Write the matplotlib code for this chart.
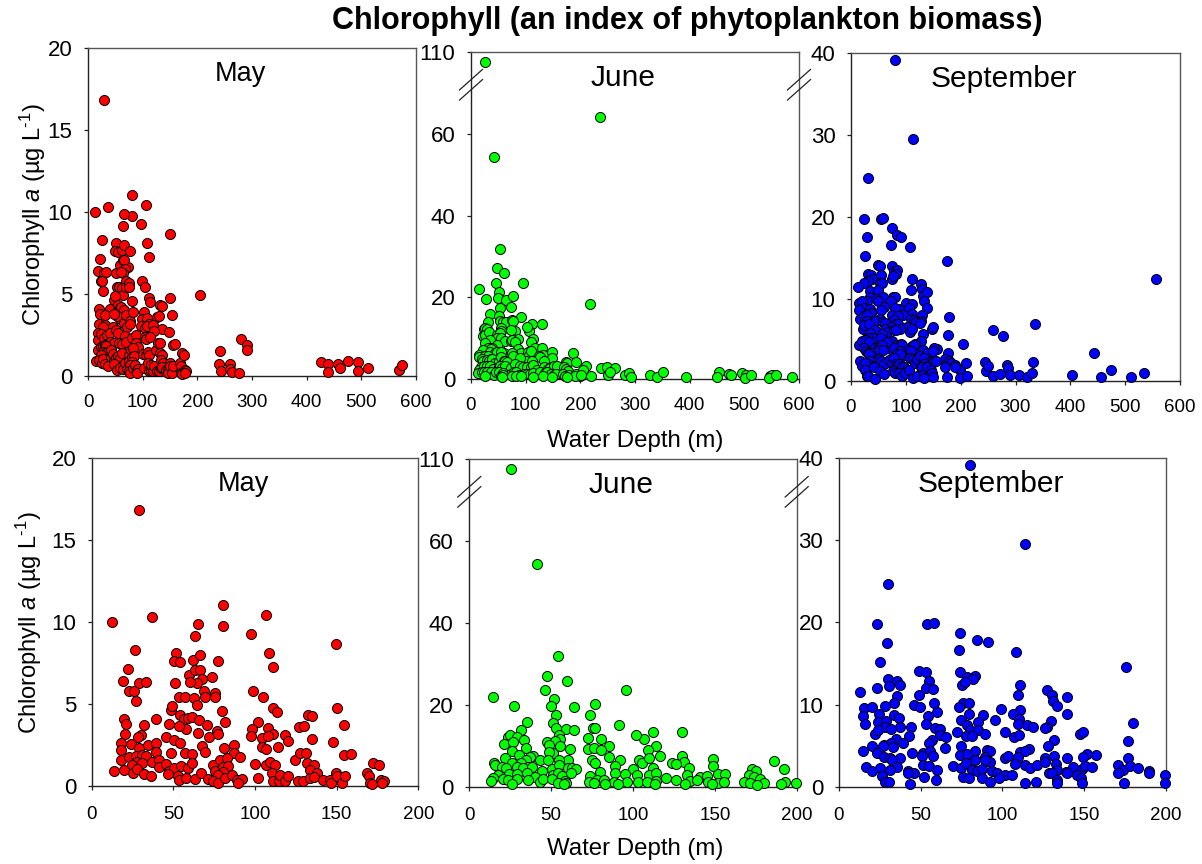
import numpy as np
import matplotlib
matplotlib.use("Agg")
import matplotlib.pyplot as plt
from matplotlib.lines import Line2D

plt.rcParams['font.family'] = ['Liberation Sans', 'DejaVu Sans']
plt.rcParams['mathtext.fontset'] = 'custom'
plt.rcParams['mathtext.rm'] = 'Liberation Sans'
plt.rcParams['mathtext.it'] = 'Liberation Sans:italic'
plt.rcParams['mathtext.bf'] = 'Liberation Sans:bold'

# ---------------- data (water depth in m, chlorophyll a in ug/L) ----------------
may_depth = [
    29.2, 12.2, 36.9, 80.6, 80.6, 106.7, 65.3, 63.5, 97.6, 149.6,
    26.3, 108.6, 51.4, 50.2, 54.3, 62.2, 66.3, 77.6, 22.2, 111.2,
    73.5, 19.0, 29.2, 33.3, 51.2, 59.4, 63.3, 66.3, 67.6, 64.3,
    60.2, 23.0, 26.1, 27.1, 98.6, 53.3, 57.1, 62.9, 64.3, 69.0,
    69.4, 75.5, 75.3, 105.0, 110.8, 113.3, 150.0, 48.4, 49.4, 80.0,
    19.8, 21.2, 20.2, 39.4, 32.0, 30.2, 28.2, 54.1, 56.5, 59.2,
    61.2, 65.7, 57.8, 53.3, 47.6, 65.3, 70.4, 71.6, 76.5, 81.8,
    77.3, 102.0, 98.0, 97.6, 107.8, 110.8, 104.1, 108.2, 132.4, 135.1,
    127.1, 130.2, 135.1, 154.5, 118.2, 120.2, 148.0, 45.3, 18.2, 18.0,
    24.3, 29.2, 34.3, 39.4, 39.6, 48.4, 50.4, 54.1, 57.1, 61.6,
    67.3, 69.4, 81.2, 87.3, 87.1, 90.6, 104.1, 106.5, 113.9, 18.2,
    22.9, 27.1, 30.8, 33.3, 27.6, 31.0, 37.1, 41.2, 24.5, 13.9,
    20.0, 25.1, 27.6, 32.0, 36.1, 41.2, 45.3, 47.3, 50.4, 54.5,
    59.2, 61.6, 53.1, 47.0, 53.7, 57.8, 63.3, 67.1, 71.2, 74.5,
    75.5, 78.6, 80.6, 82.7, 83.7, 80.2, 77.6, 74.1, 77.3, 81.8,
    85.7, 88.8, 91.8, 89.4, 100.0, 101.6, 106.7, 109.2, 112.2, 110.2,
    110.8, 114.5, 115.3, 118.6, 120.2, 124.5, 127.6, 131.4, 131.6, 135.9,
    133.7, 137.8, 126.5, 129.2, 133.7, 135.9, 141.8, 145.9, 146.3, 149.6,
    150.0, 153.3, 155.3, 154.7, 158.6, 168.8, 172.0, 175.7, 169.6, 170.4,
    171.6, 177.0, 179.2, 177.8,
    204.5, 241.0, 239.0, 243.5, 259.5, 259.5, 264.0, 276.5, 279.0, 290.0,
    290.0, 425.5, 439.5, 438.3, 458.0, 461.0, 476.0, 493.0, 493.0, 511.6,
    569.6, 575.0,
]
may_chl = [
    16.8, 10.0, 10.3, 11.06, 9.76, 10.4, 9.86, 9.15, 9.25, 8.64,
    8.27, 8.13, 8.11, 7.62, 7.54, 7.68, 7.99, 7.6, 7.13, 7.28,
    6.67, 6.42, 6.3, 6.34, 6.28, 6.75, 7.07, 7.05, 6.52, 6.3,
    6.36, 5.81, 5.81, 5.18, 5.81, 5.45, 5.45, 5.37, 4.94, 5.81,
    5.45, 5.65, 5.41, 5.45, 4.78, 4.53, 4.78, 4.65, 4.88, 4.59,
    4.09, 3.78, 3.19, 4.1, 3.7, 3.11, 2.97, 4.33, 4.1, 4.17,
    4.23, 4.02, 3.46, 3.66, 3.78, 3.21, 3.7, 2.97, 3.37, 3.92,
    3.17, 3.92, 3.46, 3.07, 3.56, 3.17, 2.91, 3.05, 4.31, 4.27,
    3.62, 3.66, 2.87, 3.72, 3.11, 2.74, 2.68, 3.01, 2.6, 2.2,
    2.56, 2.34, 2.5, 2.6, 2.07, 1.99, 2.8, 2.6, 1.99, 1.95,
    2.46, 2.05, 2.34, 2.48, 1.99, 1.79, 2.36, 2.26, 2.4, 1.61,
    1.75, 1.83, 1.91, 1.85, 1.48, 1.38, 1.44, 1.59, 1.28, 0.93,
    0.98, 0.79, 1.02, 0.73, 0.61, 1.18, 1.34, 0.91, 1.08, 1.24,
    1.08, 1.38, 0.61, 0.73, 0.37, 0.47, 0.45, 0.77, 0.43, 1.3,
    0.93, 1.59, 1.18, 1.69, 1.22, 0.87, 0.67, 0.33, 0.16, 0.47,
    0.67, 0.37, 0.41, 0.2, 1.32, 0.47, 1.28, 1.48, 1.28, 0.81,
    0.33, 0.3, 0.67, 0.3, 0.61, 1.59, 1.99, 1.99, 1.38, 1.28,
    0.98, 0.77, 0.33, 0.33, 0.47, 0.57, 0.37, 0.37, 0.16, 0.77,
    0.61, 0.16, 0.61, 1.89, 1.93, 0.81, 1.38, 1.26, 0.61, 0.16,
    0.1, 0.37, 0.3, 0.2,
    4.92, 1.53, 0.73, 0.31, 0.71, 0.41, 0.26, 0.16, 2.24, 1.89,
    1.59, 0.87, 0.71, 0.26, 0.71, 0.47, 0.92, 0.87, 0.33, 0.47,
    0.37, 0.67,
]

june_depth = [
    25.5, 41.6, 53.9, 47.3, 59.6, 46.5, 95.9, 14.5, 51.8, 49.8,
    27.6, 63.7, 76.5, 73.7, 52.7, 35.5, 91.2, 51.4, 52.7, 58.8,
    63.7, 31.4, 75.5, 76.5, 130.0, 112.0, 106.5, 101.8, 80.6, 72.7,
    23.5, 24.9, 29.4, 54.7, 55.7, 21.2, 26.5, 33.5, 47.3, 52.2,
    48.4, 51.4, 55.3, 85.5, 113.9, 109.2, 34.7, 26.1, 61.6, 72.4,
    75.9, 80.6, 48.4, 30.2, 39.2, 37.3, 116.3, 130.0, 131.0, 85.5,
    21.8, 34.7, 60.2, 91.8, 74.9, 103.5, 105.5, 109.6, 43.3, 48.2,
    55.1, 149.0, 186.0, 15.1, 15.5, 26.1, 31.4, 36.1, 77.0, 123.9,
    126.3, 149.0, 19.8, 22.4, 29.0, 32.7, 38.4, 44.7, 50.6, 54.5,
    60.4, 62.7, 65.3, 99.8, 88.8, 112.0, 134.0, 172.9, 175.3, 192.2,
    17.8, 14.7, 24.5, 29.0, 35.1, 40.2, 51.4, 53.9, 56.5, 62.2,
    73.9, 80.0, 89.0, 95.3, 102.4, 109.8, 114.3, 120.4, 133.0, 141.2,
    144.9, 152.0, 156.5, 170.8, 173.9, 177.6, 13.1, 20.4, 23.9, 29.4,
    35.7, 42.9, 45.3, 50.6, 58.2, 72.9, 78.0, 82.4, 88.2, 96.3,
    103.1, 108.6, 114.3, 126.5, 134.7, 139.2, 146.1, 152.0, 155.5, 167.8,
    171.4, 180.0, 192.6, 199.5, 190.2, 26.3, 54.1, 59.0, 75.9, 83.0,
    90.8, 113.7, 132.0, 148.0, 175.9, 57.6,
    235.4, 218.3, 211.0, 204.9, 219.0, 201.8, 238.4, 248.8, 262.8, 250.6,
    254.9, 281.1, 289.0, 292.0, 326.8, 340.9, 351.2, 393.9, 453.7, 450.0,
    472.0, 475.0, 495.7, 503.7, 500.6, 511.6, 546.3, 551.2, 545.1, 558.5,
    587.8,
]
june_chl = [
    105.0, 54.4, 31.8, 27.1, 25.9, 23.5, 23.6, 21.9, 21.3, 19.8,
    19.6, 19.4, 20.2, 17.5, 17.4, 15.9, 15.1, 15.5, 14.3, 14.0,
    13.9, 13.9, 14.4, 14.3, 13.4, 13.4, 11.7, 12.6, 11.7, 12.0,
    12.2, 12.5, 12.2, 12.5, 11.7, 10.4, 10.8, 11.4, 10.8, 11.2,
    10.1, 8.15, 10.0, 9.9, 9.9, 9.0, 9.5, 8.7, 9.2, 9.2,
    9.5, 9.0, 8.4, 7.7, 7.6, 7.3, 7.6, 7.6, 5.95, 7.25,
    7.1, 6.5, 6.4, 6.4, 6.4, 6.5, 5.9, 6.9, 6.4, 6.5,
    6.5, 6.7, 6.3, 5.9, 5.4, 5.7, 5.7, 4.9, 5.7, 5.7,
    5.5, 5.05, 4.9, 4.5, 4.7, 4.5, 4.9, 3.8, 4.3, 5.3,
    4.5, 4.5, 4.2, 4.3, 5.05, 4.5, 4.5, 4.2, 3.8, 4.2,
    2.85, 2.2, 3.1, 3.1, 3.26, 2.45, 2.85, 3.26, 2.6, 3.26,
    2.6, 3.67, 3.26, 3.0, 2.85, 2.85, 3.4, 2.2, 2.85, 2.45,
    2.6, 3.1, 3.1, 2.85, 2.45, 2.0, 1.4, 1.8, 1.6, 1.8,
    1.6, 1.1, 1.8, 1.8, 1.4, 1.2, 1.6, 1.6, 1.06, 1.2,
    1.2, 1.2, 1.4, 1.6, 1.5, 1.6, 1.2, 1.0, 1.2, 1.2,
    0.8, 1.0, 1.2, 0.8, 0.65, 0.65, 0.8, 1.0, 0.8, 0.65,
    0.65, 0.57, 0.65, 0.57, 0.4, 0.57,
    64.2, 18.4, 3.2, 2.2, 0.8, 1.0, 2.8, 3.0, 2.6, 1.0,
    1.8, 1.0, 1.4, 0.57, 1.0, 0.4, 1.8, 0.57, 1.8, 0.57,
    1.2, 1.0, 1.55, 1.0, 0.16, 1.0, 0.73, 1.0, 0.16, 1.0,
    0.4,
]

sep_depth = [
    80.4, 113.6, 30.3, 23.2, 54.2, 58.5, 74.3, 84.3, 91.4, 29.3,
    73.5, 108.4, 25.3, 175.6, 48.9, 53.4, 74.3, 78.6, 83.3, 81.9,
    30.3, 35.8, 37.5, 55.4, 31.0, 75.4, 77.2, 110.8, 23.2, 53.4,
    57.4, 127.5, 13.0, 130.3, 35.4, 109.6, 49.3, 131.2, 139.3, 34.0,
    58.2, 76.2, 79.4, 133.2, 28.5, 15.5, 20.4, 46.0, 49.7, 73.7,
    99.4, 110.8, 24.6, 59.9, 34.0, 37.1, 54.6, 88.4, 15.1, 106.3,
    139.3, 110.4, 79.4, 74.5, 95.5, 85.1, 16.3, 24.2, 28.7, 179.6,
    129.7, 53.4, 109.3, 115.3, 118.9, 78.6, 127.5, 126.3, 37.5, 44.2,
    59.0, 22.2, 28.5, 24.0, 32.0, 62.1, 80.2, 85.1, 72.3, 101.4,
    147.5, 149.5, 89.6, 43.2, 62.1, 65.3, 77.6, 81.7, 107.3, 110.4,
    35.0, 131.5, 176.6, 39.5, 56.8, 27.9, 31.8, 55.0, 127.9, 74.5,
    65.2, 15.1, 20.4, 27.3, 33.4, 44.6, 51.7, 55.8, 83.5, 90.4,
    92.4, 116.5, 110.8, 114.0, 74.1, 78.2, 157.2, 151.5, 101.6, 103.7,
    109.8, 126.1, 131.5, 139.3, 149.1, 176.6, 23.2, 27.6, 31.4, 37.5,
    50.7, 57.8, 89.6, 83.3, 92.4, 89.4, 16.5, 20.4, 32.4, 35.4,
    31.4, 25.3, 42.6, 46.2, 51.3, 55.4, 59.9, 70.1, 74.5, 77.6,
    81.7, 84.3, 87.4, 93.7, 96.5, 101.6, 107.9, 113.8, 116.9, 121.0,
    126.1, 132.6, 133.2, 138.7, 143.4, 148.5, 150.5, 154.8, 170.8, 174.0,
    178.0, 182.7, 189.6, 199.5, 189.8, 26.3, 28.3, 30.8, 42.6, 43.6,
    52.1, 59.4, 76.2, 79.6, 87.4, 92.4, 98.2, 105.7, 113.6, 120.6,
    128.3, 130.3, 133.6, 133.2, 139.3, 145.4, 147.9, 148.9, 170.8, 174.5,
    199.4,
    556.3, 335.4, 259.3, 276.3, 204.5, 443.7, 332.3, 244.0, 245.9, 250.0,
    210.6, 212.4, 259.3, 271.5, 283.6, 285.5, 289.7, 306.8, 320.1, 330.5,
    402.3, 455.9, 473.5, 510.7, 535.0,
]
sep_chl = [
    39.2, 29.5, 24.7, 19.8, 19.8, 19.9, 18.7, 17.8, 17.6, 17.5,
    16.6, 16.4, 15.2, 14.6, 14.1, 14.0, 14.0, 13.4, 13.5, 13.1,
    13.1, 12.9, 12.4, 12.9, 12.2, 12.4, 12.8, 12.4, 12.0, 12.0,
    11.9, 11.8, 11.5, 11.2, 11.0, 11.1, 11.1, 10.4, 10.9, 10.2,
    10.2, 10.2, 10.2, 9.8, 9.8, 9.55, 9.75, 9.95, 9.75, 9.75,
    9.5, 9.35, 8.9, 9.05, 8.75, 8.35, 8.65, 8.75, 8.6, 8.85,
    8.9, 8.2, 8.9, 8.1, 8.1, 7.9, 7.6, 7.9, 8.05, 7.8,
    8.0, 7.6, 7.6, 7.5, 7.25, 7.5, 7.3, 7.1, 7.25, 7.3,
    7.2, 6.4, 7.3, 6.85, 7.0, 7.05, 6.9, 6.9, 6.6, 6.6,
    6.4, 6.6, 6.4, 6.2, 6.3, 6.0, 6.2, 6.2, 6.0, 6.3,
    5.8, 5.7, 5.55, 5.3, 5.7, 5.1, 5.3, 5.3, 4.9, 4.9,
    4.7, 4.4, 4.9, 4.95, 4.8, 4.05, 4.15, 4.35, 4.35, 4.47,
    4.35, 4.55, 4.25, 4.35, 3.8, 4.0, 3.85, 4.0, 3.55, 3.75,
    3.6, 3.45, 3.75, 3.45, 3.65, 3.45, 4.05, 3.65, 3.45, 3.45,
    3.75, 3.75, 3.65, 3.25, 3.05, 3.25, 2.45, 1.85, 3.25, 2.45,
    2.05, 2.25, 1.85, 1.65, 2.65, 2.5, 2.05, 2.55, 2.25, 2.85,
    2.05, 1.85, 2.1, 1.85, 1.65, 1.4, 2.75, 2.65, 2.25, 2.65,
    3.05, 2.75, 2.05, 1.75, 2.35, 2.15, 2.5, 2.45, 2.65, 2.05,
    2.5, 2.25, 1.95, 1.4, 1.65, 1.3, 0.6, 0.6, 1.7, 0.3,
    1.2, 0.8, 1.2, 1.0, 1.0, 0.6, 1.0, 1.4, 0.4, 0.6,
    1.65, 1.65, 0.8, 0.4, 1.65, 1.4, 1.0, 0.5, 1.65, 0.5,
    0.4,
    12.4, 6.95, 6.2, 5.5, 4.5, 3.45, 2.35, 2.35, 1.26, 1.83,
    2.24, 0.61, 0.65, 0.85, 1.95, 1.55, 0.73, 0.73, 0.45, 1.02,
    0.73, 0.45, 1.34, 0.53, 0.93,
]

months = ["May", "June", "September"]
colors = ["#ff0000", "#00ff00", "#0000ff"]
title = "Chlorophyll (an index of phytoplankton biomass)"
y_label = r"Chlorophyll $\mathit{a}$ (µg L$^{\text{-1}}$)"
x_label = "Water Depth (m)"

top_xticks = [0, 100, 200, 300, 400, 500, 600]
bottom_xticks = [0, 50, 100, 150, 200]
yticks = [[0, 5, 10, 15, 20], [0, 20, 40, 60, 110], [0, 10, 20, 30, 40]]
ylims = [(0, 20), (0, 110), (0, 40)]


# broken axis for June: 0-72 linear, gap, 100-110 compressed
def june_fwd(y):
    y = np.asarray(y, dtype=float)
    return np.where(y <= 72, y,
                    np.where(y >= 100, 75 + (y - 100) * 0.5,
                             72 + (y - 72) * 3.0 / 28.0))


def june_inv(z):
    z = np.asarray(z, dtype=float)
    return np.where(z <= 72, z,
                    np.where(z >= 75, 100 + (z - 75) * 2.0,
                             72 + (z - 72) * 28.0 / 3.0))


W, H = 1202, 864
fig = plt.figure(figsize=(W / 100, H / 100), dpi=100)


def add_ax(l, t, r, b):
    return fig.add_axes([l / W, 1 - b / H, (r - l) / W, (b - t) / H])


boxes = [
    [(88, 48, 416, 376), (471, 52, 799, 379), (851, 53, 1180, 381)],
    [(91.7, 458, 418.3, 786), (469.3, 459, 796.7, 786.7), (838.7, 458, 1166, 786.7)],
]
datasets = [(may_depth, may_chl), (june_depth, june_chl), (sep_depth, sep_chl)]
title_sizes = [19.5, 21.5, 21.5]
xpads = [9.5, 11.5]

for row in range(2):
    for col in range(3):
        box = boxes[row][col]
        ax = add_ax(*box)
        d = np.array(datasets[col][0])
        c = np.array(datasets[col][1])
        if row == 1:
            keep = d <= 200
            d, c = d[keep], c[keep]
        if col == 1:
            ax.set_yscale('function', functions=(june_fwd, june_inv))
        ax.scatter(d, c, s=52, c=colors[col], edgecolors='black',
                   linewidths=0.7, zorder=3, clip_on=False)
        ax.set_ylim(*ylims[col])
        ax.set_yticks(yticks[col])
        ax.set_yticklabels([str(v) for v in yticks[col]])
        if row == 0:
            ax.set_xlim(0, 600)
            ax.set_xticks(top_xticks)
        else:
            ax.set_xlim(0, 200)
            ax.set_xticks(bottom_xticks)
        ax.set_xticklabels([str(v) for v in ax.get_xticks().astype(int)])
        ax.tick_params(axis='y', direction='out', length=3.2, width=0.9,
                       labelsize=16, pad=8, colors='#222222', labelcolor='black')
        ax.tick_params(axis='x', direction='out', length=3.2, width=0.9,
                       labelsize=13.5, pad=xpads[row], colors='#222222',
                       labelcolor='black')
        for side in ['left', 'bottom']:
            ax.spines[side].set_color('#222222')
            ax.spines[side].set_linewidth(1.0)
        for side in ['top', 'right']:
            ax.spines[side].set_color('#555555')
            ax.spines[side].set_linewidth(1.0)
        ax.text(0.465, 0.92, months[col], transform=ax.transAxes,
                ha='center', va='center', fontsize=title_sizes[col])
        if col == 1:
            wpx = box[2] - box[0]
            hpx = box[3] - box[1]
            for xs in (0.0, 1.0):
                for y0 in (0.853, 0.884):
                    ax.add_line(Line2D([xs - 11.5 / wpx, xs + 11.5 / wpx],
                                       [y0, y0 + 20.5 / hpx],
                                       transform=ax.transAxes, color='#222222',
                                       lw=0.9, clip_on=False, zorder=5))

# axis labels & title
for yc, xc in ((215, 33), (623, 29)):
    fig.text(xc / W, 1 - yc / H, y_label,
             rotation=90, ha='center', va='center', fontsize=17)
for yc in (441, 849):
    fig.text(635 / W, 1 - yc / H, x_label, ha='center', va='center', fontsize=17.3)
fig.text(687.5 / W, 1 - 21 / H, title, ha='center', va='center',
         fontsize=22, fontweight='bold')

fig.savefig("out.png", dpi=100)
